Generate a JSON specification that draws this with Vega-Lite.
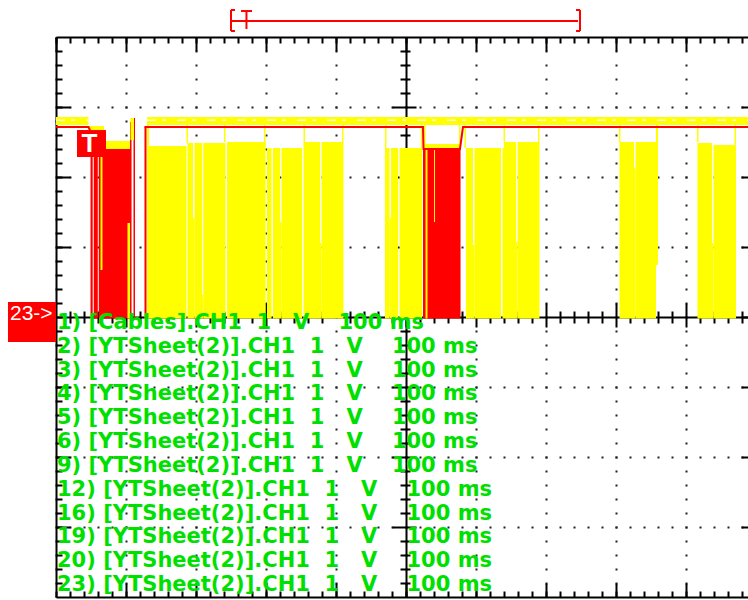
{
  "$schema": "https://vega.github.io/schema/vega-lite/v6.json",
  "width": 692,
  "height": 560,
  "autosize": {"type": "none"},
  "padding": {"left": 56, "top": 37, "right": 0, "bottom": 3},
  "background": "white",
  "config": {
    "view": {"stroke": null},
    "axis": {"labels": false, "domainColor": "black", "tickColor": "black", "tickWidth": 2, "domainWidth": 2, "grid": false}
  },
  "datasets": {
    "yellow": [
      {"t0": 0, "t1": 46.4, "hi": 2.857, "lo": 2.743},
      {"t0": 46.4, "t1": 68.6, "hi": 2.729, "lo": 2.671},
      {"t0": 68.6, "t1": 105.7, "hi": 2.514, "lo": 2.386},
      {"t0": 106.4, "t1": 111.4, "hi": 2.843, "lo": 2.529},
      {"t0": 130, "t1": 988.6, "hi": 2.857, "lo": 2.743},
      {"t0": 63.6, "t1": 66.4, "hi": 2.286, "lo": 0.671},
      {"t0": 102.1, "t1": 105.7, "hi": 1.343, "lo": -0.02},
      {"t0": 130, "t1": 132.9, "hi": 2.814, "lo": -0.02},
      {"t0": 186.4, "t1": 188.6, "hi": 2.814, "lo": 2.486},
      {"t0": 240, "t1": 242.1, "hi": 2.814, "lo": 2.5},
      {"t0": 297.1, "t1": 299.3, "hi": 2.814, "lo": 2.414},
      {"t0": 353.6, "t1": 355.7, "hi": 2.814, "lo": 2.5},
      {"t0": 408.6, "t1": 410.7, "hi": 2.814, "lo": 2.5},
      {"t0": 470, "t1": 472.1, "hi": 2.814, "lo": 2.414},
      {"t0": 521.4, "t1": 523.6, "hi": 2.814, "lo": 2.414},
      {"t0": 525.7, "t1": 527.9, "hi": 2.814, "lo": 2.386},
      {"t0": 575.7, "t1": 577.9, "hi": 2.814, "lo": 2.414},
      {"t0": 583.6, "t1": 585.7, "hi": 2.814, "lo": 2.414},
      {"t0": 639.3, "t1": 641.4, "hi": 2.814, "lo": 2.5},
      {"t0": 688.6, "t1": 690.7, "hi": 2.814, "lo": 2.5},
      {"t0": 804.3, "t1": 806.4, "hi": 2.814, "lo": 2.5},
      {"t0": 857.1, "t1": 860, "hi": 2.814, "lo": 0.743},
      {"t0": 915.7, "t1": 917.9, "hi": 2.814, "lo": 2.5},
      {"t0": 969.3, "t1": 971.4, "hi": 2.814, "lo": 2.457},
      {"t0": 527.1, "t1": 577.1, "hi": 2.471, "lo": 2.4},
      {"t0": 527.9, "t1": 530.7, "hi": 2.386, "lo": -0.02},
      {"t0": 540, "t1": 541.4, "hi": 2.386, "lo": 1.357},
      {"t0": 131.4, "t1": 186.4, "hi": 2.443, "lo": -0.02},
      {"t0": 187.9, "t1": 195.7, "hi": 2.486, "lo": -0.02},
      {"t0": 195.7, "t1": 197.9, "hi": 1.414, "lo": -0.02},
      {"t0": 197.9, "t1": 208.6, "hi": 2.486, "lo": -0.02},
      {"t0": 208.6, "t1": 210.4, "hi": 0.314, "lo": -0.02},
      {"t0": 210.4, "t1": 242.1, "hi": 2.486, "lo": -0.02},
      {"t0": 244.3, "t1": 299.3, "hi": 2.5, "lo": -0.02},
      {"t0": 301.4, "t1": 307.9, "hi": 2.414, "lo": -0.02},
      {"t0": 310, "t1": 320, "hi": 2.414, "lo": -0.02},
      {"t0": 320, "t1": 322.1, "hi": 1.357, "lo": -0.02},
      {"t0": 322.1, "t1": 351.4, "hi": 2.414, "lo": -0.02},
      {"t0": 353.6, "t1": 377.1, "hi": 2.5, "lo": -0.02},
      {"t0": 377.1, "t1": 379.3, "hi": 1.057, "lo": -0.02},
      {"t0": 379.3, "t1": 410.7, "hi": 2.5, "lo": -0.02},
      {"t0": 470, "t1": 476.4, "hi": 2.414, "lo": -0.02},
      {"t0": 476.4, "t1": 478.6, "hi": 1.414, "lo": -0.02},
      {"t0": 478.6, "t1": 488.6, "hi": 2.414, "lo": -0.02},
      {"t0": 490.7, "t1": 522.9, "hi": 2.414, "lo": -0.02},
      {"t0": 585.7, "t1": 595.7, "hi": 2.414, "lo": -0.02},
      {"t0": 595.7, "t1": 597.9, "hi": 1.029, "lo": -0.02},
      {"t0": 597.9, "t1": 635.7, "hi": 2.414, "lo": -0.02},
      {"t0": 637.9, "t1": 640, "hi": 2.414, "lo": -0.02},
      {"t0": 640, "t1": 657.1, "hi": 2.5, "lo": -0.02},
      {"t0": 657.1, "t1": 659.3, "hi": 1.071, "lo": -0.02},
      {"t0": 659.3, "t1": 690.7, "hi": 2.5, "lo": -0.02},
      {"t0": 805, "t1": 825.7, "hi": 2.5, "lo": -0.02},
      {"t0": 825.7, "t1": 827.9, "hi": 2.129, "lo": -0.02},
      {"t0": 827.9, "t1": 857.1, "hi": 2.5, "lo": -0.02},
      {"t0": 916.4, "t1": 937.1, "hi": 2.486, "lo": -0.02},
      {"t0": 937.1, "t1": 939.3, "hi": 1.057, "lo": -0.02},
      {"t0": 939.3, "t1": 971.4, "hi": 2.457, "lo": -0.02}
    ],
    "red": [
      {"t0": 49.3, "t1": 52.4, "hi": 2.386, "lo": -0.02},
      {"t0": 53.9, "t1": 59.7, "hi": 2.386, "lo": -0.02},
      {"t0": 61.1, "t1": 105.7, "hi": 2.386, "lo": -0.02},
      {"t0": 105.7, "t1": 107.9, "hi": 2.786, "lo": -0.02},
      {"t0": 110.7, "t1": 112.9, "hi": 2.843, "lo": -0.02},
      {"t0": 126.4, "t1": 129.3, "hi": 2.714, "lo": -0.02},
      {"t0": 524.3, "t1": 577.9, "hi": 2.4, "lo": -0.02}
    ],
    "redTrace": [
      {"seg": "a", "t": 0, "v": 2.714},
      {"seg": "a", "t": 46.4, "v": 2.714},
      {"seg": "a", "t": 48.5, "v": 2.671},
      {"seg": "a", "t": 50, "v": 2.386},
      {"seg": "a", "t": 105.7, "v": 2.386},
      {"seg": "b", "t": 126.4, "v": 2.714},
      {"seg": "b", "t": 524.3, "v": 2.714},
      {"seg": "b", "t": 525, "v": 2.4},
      {"seg": "b", "t": 577.1, "v": 2.4},
      {"seg": "b", "t": 581.4, "v": 2.714},
      {"seg": "b", "t": 988.6, "v": 2.714}
    ],
    "steadyHigh": [
      {"t0": 0, "t1": 46.4},
      {"t0": 130, "t1": 988.6}
    ],
    "trigger": [
      {"t0": 250, "t1": 250, "v0": 4.386, "v1": 4.086},
      {"t0": 250, "t1": 255.7, "v0": 4.386, "v1": 4.386},
      {"t0": 250, "t1": 255.7, "v0": 4.086, "v1": 4.086},
      {"t0": 264.3, "t1": 280, "v0": 4.371, "v1": 4.371},
      {"t0": 272.1, "t1": 272.1, "v0": 4.371, "v1": 4.114},
      {"t0": 250, "t1": 745.7, "v0": 4.229, "v1": 4.229},
      {"t0": 748.6, "t1": 748.6, "v0": 4.386, "v1": 4.086},
      {"t0": 742.9, "t1": 748.6, "v0": 4.386, "v1": 4.386},
      {"t0": 742.9, "t1": 748.6, "v0": 4.086, "v1": 4.086}
    ],
    "channels": [
      {"label": "1) [Cables].CH1\u00a0\u00a01\u00a0\u00a0\u00a0V\u00a0\u00a0\u00a0\u00a0100 ms"},
      {"label": "2) [YTSheet(2)].CH1\u00a0\u00a01\u00a0\u00a0\u00a0V\u00a0\u00a0\u00a0\u00a0100 ms"},
      {"label": "3) [YTSheet(2)].CH1\u00a0\u00a01\u00a0\u00a0\u00a0V\u00a0\u00a0\u00a0\u00a0100 ms"},
      {"label": "4) [YTSheet(2)].CH1\u00a0\u00a01\u00a0\u00a0\u00a0V\u00a0\u00a0\u00a0\u00a0100 ms"},
      {"label": "5) [YTSheet(2)].CH1\u00a0\u00a01\u00a0\u00a0\u00a0V\u00a0\u00a0\u00a0\u00a0100 ms"},
      {"label": "6) [YTSheet(2)].CH1\u00a0\u00a01\u00a0\u00a0\u00a0V\u00a0\u00a0\u00a0\u00a0100 ms"},
      {"label": "9) [YTSheet(2)].CH1\u00a0\u00a01\u00a0\u00a0\u00a0V\u00a0\u00a0\u00a0\u00a0100 ms"},
      {"label": "12) [YTSheet(2)].CH1\u00a0\u00a01\u00a0\u00a0\u00a0V\u00a0\u00a0\u00a0\u00a0100 ms"},
      {"label": "16) [YTSheet(2)].CH1\u00a0\u00a01\u00a0\u00a0\u00a0V\u00a0\u00a0\u00a0\u00a0100 ms"},
      {"label": "19) [YTSheet(2)].CH1\u00a0\u00a01\u00a0\u00a0\u00a0V\u00a0\u00a0\u00a0\u00a0100 ms"},
      {"label": "20) [YTSheet(2)].CH1\u00a0\u00a01\u00a0\u00a0\u00a0V\u00a0\u00a0\u00a0\u00a0100 ms"},
      {"label": "23) [YTSheet(2)].CH1\u00a0\u00a01\u00a0\u00a0\u00a0V\u00a0\u00a0\u00a0\u00a0100 ms"}
    ]
  },
  "layer": [
    {
      "layer": [
        {
          "data": {"name": "red"},
          "mark": {"type": "rect", "color": "#ff0000"},
          "encoding": {
            "x": {"field": "t0", "type": "quantitative", "scale": {"domain": [0, 988.571], "nice": false, "zero": false},
                  "axis": {"orient": "top", "title": null, "tickSize": -6, "domain": true,
                           "values": [0,20,40,60,80,100,120,140,160,180,200,220,240,260,280,300,320,340,360,380,400,420,440,460,480,500,520,540,560,580,600,620,640,660,680,700,720,740,760,780,800,820,840,860,880,900,920,940,960,980]}},
            "x2": {"field": "t1"},
            "y": {"field": "hi", "type": "quantitative", "scale": {"domain": [-4, 4], "nice": false, "zero": false},
                  "axis": {"orient": "left", "title": null, "tickSize": -6, "domain": true,
                           "values": [-3.8,-3.6,-3.4,-3.2,-3,-2.8,-2.6,-2.4,-2.2,-2,-1.8,-1.6,-1.4,-1.2,-1,-0.8,-0.6,-0.4,-0.2,0,0.2,0.4,0.6,0.8,1,1.2,1.4,1.6,1.8,2,2.2,2.4,2.6,2.8,3,3.2,3.4,3.6,3.8]}},
            "y2": {"field": "lo"}
          }
        },
        {
          "data": {"name": "yellow"},
          "mark": {"type": "rect", "color": "#ffff00"},
          "encoding": {
            "x": {"field": "t0", "type": "quantitative", "scale": {"domain": [0, 988.571], "nice": false, "zero": false},
                  "axis": {"orient": "top", "title": null, "tickSize": -14, "domain": false,
                           "values": [0,100,200,300,400,500,600,700,800,900],
                           "grid": true, "gridColor": "#222222", "gridWidth": 2, "gridDash": [2, 12], "gridDashOffset": 1}},
            "x2": {"field": "t1"},
            "y": {"field": "hi", "type": "quantitative", "scale": {"domain": [-4, 4], "nice": false, "zero": false},
                  "axis": {"orient": "left", "title": null, "tickSize": -14, "domain": false,
                           "values": [-3, -2, -1, 1, 2, 3],
                           "grid": true, "gridColor": "#222222", "gridWidth": 2, "gridDash": [2, 12], "gridDashOffset": 1}},
            "y2": {"field": "lo"}
          }
        },
        {
          "data": {"name": "steadyHigh"},
          "mark": {"type": "rule", "color": "white", "strokeWidth": 1.5, "strokeDash": [9, 6, 4, 11], "opacity": 0.85},
          "encoding": {
            "x": {"field": "t0", "type": "quantitative", "scale": {"domain": [0, 988.571], "nice": false, "zero": false}, "axis": null},
            "x2": {"field": "t1"},
            "y": {"datum": 2.81, "type": "quantitative", "scale": {"domain": [-4, 4], "nice": false, "zero": false}, "axis": null}
          }
        },
        {
          "data": {"name": "redTrace"},
          "mark": {"type": "line", "color": "#ff0000", "strokeWidth": 2},
          "encoding": {
            "x": {"field": "t", "type": "quantitative", "scale": {"domain": [0, 988.571], "nice": false, "zero": false},
                  "axis": {"orient": "bottom", "title": null, "tickSize": -6, "domain": true,
                           "values": [0,20,40,60,80,100,120,140,160,180,200,220,240,260,280,300,320,340,360,380,400,420,440,460,480,500,520,540,560,580,600,620,640,660,680,700,720,740,760,780,800,820,840,860,880,900,920,940,960,980]}},
            "y": {"field": "v", "type": "quantitative", "scale": {"domain": [-4, 4], "nice": false, "zero": false},
                  "axis": {"orient": "right", "title": null, "tickSize": -7, "domain": false, "values": [-3, -2, -1, 0, 1, 2, 3]}},
            "detail": {"field": "seg"}
          }
        },
        {
          "data": {"values": [{}]},
          "mark": {"type": "rect", "color": "#ff0000"},
          "encoding": {
            "x": {"datum": 30, "type": "quantitative", "scale": {"domain": [0, 988.571], "nice": false, "zero": false},
                  "axis": {"orient": "bottom", "title": null, "tickSize": -14, "domain": false, "values": [100,200,300,400,500,600,700,800,900]}},
            "x2": {"datum": 71.4},
            "y": {"datum": 2.671, "type": "quantitative", "scale": {"domain": [-4, 4], "nice": false, "zero": false},
                  "axis": {"orient": "left", "title": null, "offset": -350, "ticks": false, "domain": true}},
            "y2": {"datum": 2.286}
          }
        },
        {
          "data": {"values": [{}]},
          "mark": {"type": "text", "text": "T", "color": "white", "font": "Liberation Sans", "fontWeight": "bold", "fontSize": 26, "align": "center", "baseline": "middle"},
          "encoding": {
            "x": {"datum": 47.9, "type": "quantitative", "scale": {"domain": [0, 988.571], "nice": false, "zero": false},
                  "axis": {"orient": "bottom", "title": null, "offset": -280, "ticks": false, "domain": true}},
            "y": {"datum": 2.471, "type": "quantitative", "scale": {"domain": [-4, 4], "nice": false, "zero": false},
                  "axis": {"orient": "left", "title": null, "offset": -354, "tickSize": 10, "domain": false,
                           "values": [-3.8,-3.6,-3.4,-3.2,-2.8,-2.6,-2.4,-2.2,-1.8,-1.6,-1.4,-1.2,-0.8,-0.6,-0.4,-0.2,0.2,0.4,0.6,0.8,1.2,1.4,1.6,1.8,2.2,2.4,2.6,2.8,3.2,3.4,3.6,3.8]}}
          }
        },
        {
          "data": {"name": "trigger"},
          "mark": {"type": "rule", "color": "#ff0000", "strokeWidth": 2},
          "encoding": {
            "x": {"field": "t0", "type": "quantitative", "scale": {"domain": [0, 988.571], "nice": false, "zero": false},
                  "axis": {"orient": "bottom", "title": null, "offset": -286, "tickSize": 12, "domain": false,
                           "values": [20,40,60,80,120,140,160,180,220,240,260,280,320,340,360,380,420,440,460,480,520,540,560,580,620,640,660,680,720,740,760,780,820,840,860,880,920,940,960,980]}},
            "x2": {"field": "t1"},
            "y": {"field": "v0", "type": "quantitative", "scale": {"domain": [-4, 4], "nice": false, "zero": false},
                  "axis": {"orient": "left", "title": null, "offset": -360, "tickSize": 24, "domain": false, "values": [-3, -2, -1, 1, 2, 3]}},
            "y2": {"field": "v1"}
          }
        },
        {
          "data": {"values": [{}]},
          "mark": {"type": "rect", "color": "#ff0000"},
          "encoding": {
            "x": {"datum": -68.6, "type": "quantitative", "scale": {"domain": [0, 988.571], "nice": false, "zero": false},
                  "axis": {"orient": "bottom", "title": null, "offset": -294, "tickSize": 24, "domain": false, "values": [100,200,300,500,600,700,800,900]}},
            "x2": {"datum": 0},
            "y": {"datum": 0.214, "type": "quantitative", "scale": {"domain": [-4, 4], "nice": false, "zero": false}, "axis": null},
            "y2": {"datum": -0.357}
          }
        },
        {
          "data": {"values": [{}]},
          "mark": {"type": "text", "text": "23->", "color": "white", "font": "Liberation Sans", "fontSize": 21, "align": "left", "baseline": "alphabetic"},
          "encoding": {
            "x": {"datum": -65.7, "type": "quantitative", "scale": {"domain": [0, 988.571], "nice": false, "zero": false}, "axis": null},
            "y": {"datum": -0.043, "type": "quantitative", "scale": {"domain": [-4, 4], "nice": false, "zero": false}, "axis": null}
          }
        }
      ],
      "resolve": {"axis": {"x": "independent", "y": "independent"}}
    },
    {
      "data": {"name": "channels"},
      "mark": {"type": "text", "align": "left", "baseline": "alphabetic", "font": "DejaVu Sans", "fontWeight": "bold", "fontSize": 21, "color": "#00e000", "dx": 1},
      "encoding": {
        "x": {"datum": 0, "type": "quantitative", "scale": {"domain": [0, 988.571], "nice": false, "zero": false}, "axis": null},
        "y": {"field": "label", "type": "nominal", "sort": null, "scale": {"type": "point", "range": [292, 554], "padding": 0}, "axis": null},
        "text": {"field": "label"}
      }
    }
  ],
  "resolve": {"scale": {"y": "independent"}, "axis": {"x": "independent", "y": "independent"}}
}
